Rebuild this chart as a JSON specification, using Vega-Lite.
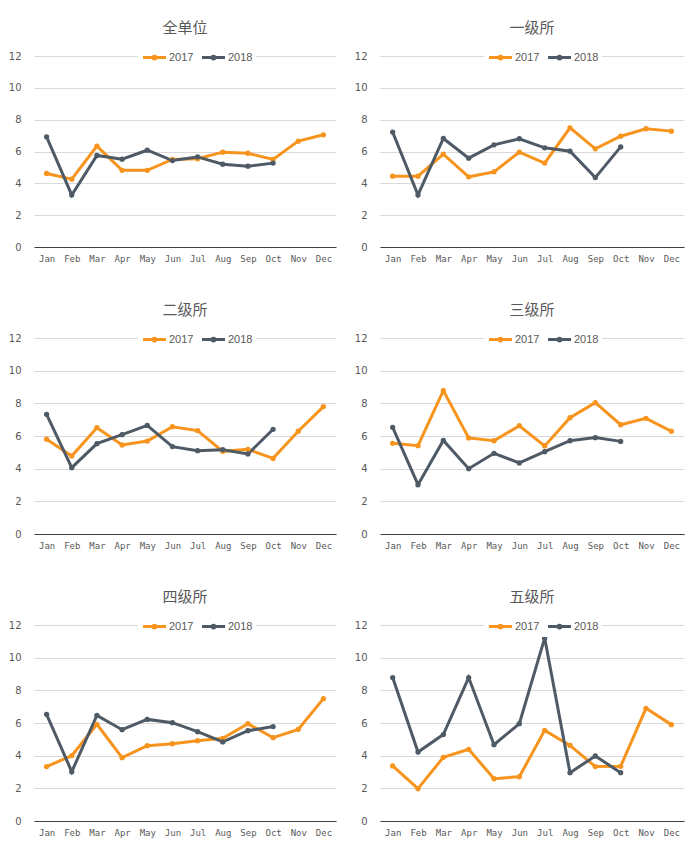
{
  "$schema": "https://vega.github.io/schema/vega-lite/v6.json",
  "background": "white",
  "padding": {"left": 8, "top": 21, "right": 5, "bottom": 5},
  "datasets": {
    "rates": [
      {"unit": "全单位", "month": "Jan", "year": "2017", "value": 4.62},
      {"unit": "全单位", "month": "Feb", "year": "2017", "value": 4.26},
      {"unit": "全单位", "month": "Mar", "year": "2017", "value": 6.34},
      {"unit": "全单位", "month": "Apr", "year": "2017", "value": 4.82},
      {"unit": "全单位", "month": "May", "year": "2017", "value": 4.82},
      {"unit": "全单位", "month": "Jun", "year": "2017", "value": 5.5},
      {"unit": "全单位", "month": "Jul", "year": "2017", "value": 5.54},
      {"unit": "全单位", "month": "Aug", "year": "2017", "value": 5.96},
      {"unit": "全单位", "month": "Sep", "year": "2017", "value": 5.89},
      {"unit": "全单位", "month": "Oct", "year": "2017", "value": 5.5},
      {"unit": "全单位", "month": "Nov", "year": "2017", "value": 6.65},
      {"unit": "全单位", "month": "Dec", "year": "2017", "value": 7.05},
      {"unit": "全单位", "month": "Jan", "year": "2018", "value": 6.92},
      {"unit": "全单位", "month": "Feb", "year": "2018", "value": 3.27},
      {"unit": "全单位", "month": "Mar", "year": "2018", "value": 5.75},
      {"unit": "全单位", "month": "Apr", "year": "2018", "value": 5.52},
      {"unit": "全单位", "month": "May", "year": "2018", "value": 6.08},
      {"unit": "全单位", "month": "Jun", "year": "2018", "value": 5.43},
      {"unit": "全单位", "month": "Jul", "year": "2018", "value": 5.66},
      {"unit": "全单位", "month": "Aug", "year": "2018", "value": 5.2},
      {"unit": "全单位", "month": "Sep", "year": "2018", "value": 5.08},
      {"unit": "全单位", "month": "Oct", "year": "2018", "value": 5.27},

      {"unit": "一级所", "month": "Jan", "year": "2017", "value": 4.45},
      {"unit": "一级所", "month": "Feb", "year": "2017", "value": 4.45},
      {"unit": "一级所", "month": "Mar", "year": "2017", "value": 5.83},
      {"unit": "一级所", "month": "Apr", "year": "2017", "value": 4.41},
      {"unit": "一级所", "month": "May", "year": "2017", "value": 4.72},
      {"unit": "一级所", "month": "Jun", "year": "2017", "value": 5.96},
      {"unit": "一级所", "month": "Jul", "year": "2017", "value": 5.27},
      {"unit": "一级所", "month": "Aug", "year": "2017", "value": 7.49},
      {"unit": "一级所", "month": "Sep", "year": "2017", "value": 6.17},
      {"unit": "一级所", "month": "Oct", "year": "2017", "value": 6.96},
      {"unit": "一级所", "month": "Nov", "year": "2017", "value": 7.43},
      {"unit": "一级所", "month": "Dec", "year": "2017", "value": 7.28},
      {"unit": "一级所", "month": "Jan", "year": "2018", "value": 7.22},
      {"unit": "一级所", "month": "Feb", "year": "2018", "value": 3.27},
      {"unit": "一级所", "month": "Mar", "year": "2018", "value": 6.82},
      {"unit": "一级所", "month": "Apr", "year": "2018", "value": 5.58},
      {"unit": "一级所", "month": "May", "year": "2018", "value": 6.42},
      {"unit": "一级所", "month": "Jun", "year": "2018", "value": 6.8},
      {"unit": "一级所", "month": "Jul", "year": "2018", "value": 6.23},
      {"unit": "一级所", "month": "Aug", "year": "2018", "value": 6.02},
      {"unit": "一级所", "month": "Sep", "year": "2018", "value": 4.36},
      {"unit": "一级所", "month": "Oct", "year": "2018", "value": 6.29},

      {"unit": "二级所", "month": "Jan", "year": "2017", "value": 5.8},
      {"unit": "二级所", "month": "Feb", "year": "2017", "value": 4.78},
      {"unit": "二级所", "month": "Mar", "year": "2017", "value": 6.51},
      {"unit": "二级所", "month": "Apr", "year": "2017", "value": 5.45},
      {"unit": "二级所", "month": "May", "year": "2017", "value": 5.69},
      {"unit": "二级所", "month": "Jun", "year": "2017", "value": 6.57},
      {"unit": "二级所", "month": "Jul", "year": "2017", "value": 6.33},
      {"unit": "二级所", "month": "Aug", "year": "2017", "value": 5.06},
      {"unit": "二级所", "month": "Sep", "year": "2017", "value": 5.18},
      {"unit": "二级所", "month": "Oct", "year": "2017", "value": 4.63},
      {"unit": "二级所", "month": "Nov", "year": "2017", "value": 6.29},
      {"unit": "二级所", "month": "Dec", "year": "2017", "value": 7.8},
      {"unit": "二级所", "month": "Jan", "year": "2018", "value": 7.33},
      {"unit": "二级所", "month": "Feb", "year": "2018", "value": 4.06},
      {"unit": "二级所", "month": "Mar", "year": "2018", "value": 5.53},
      {"unit": "二级所", "month": "Apr", "year": "2018", "value": 6.08},
      {"unit": "二级所", "month": "May", "year": "2018", "value": 6.65},
      {"unit": "二级所", "month": "Jun", "year": "2018", "value": 5.35},
      {"unit": "二级所", "month": "Jul", "year": "2018", "value": 5.1},
      {"unit": "二级所", "month": "Aug", "year": "2018", "value": 5.16},
      {"unit": "二级所", "month": "Sep", "year": "2018", "value": 4.9},
      {"unit": "二级所", "month": "Oct", "year": "2018", "value": 6.41},

      {"unit": "三级所", "month": "Jan", "year": "2017", "value": 5.55},
      {"unit": "三级所", "month": "Feb", "year": "2017", "value": 5.41},
      {"unit": "三级所", "month": "Mar", "year": "2017", "value": 8.78},
      {"unit": "三级所", "month": "Apr", "year": "2017", "value": 5.88},
      {"unit": "三级所", "month": "May", "year": "2017", "value": 5.71},
      {"unit": "三级所", "month": "Jun", "year": "2017", "value": 6.63},
      {"unit": "三级所", "month": "Jul", "year": "2017", "value": 5.39},
      {"unit": "三级所", "month": "Aug", "year": "2017", "value": 7.12},
      {"unit": "三级所", "month": "Sep", "year": "2017", "value": 8.04},
      {"unit": "三级所", "month": "Oct", "year": "2017", "value": 6.69},
      {"unit": "三级所", "month": "Nov", "year": "2017", "value": 7.08},
      {"unit": "三级所", "month": "Dec", "year": "2017", "value": 6.29},
      {"unit": "三级所", "month": "Jan", "year": "2018", "value": 6.53},
      {"unit": "三级所", "month": "Feb", "year": "2018", "value": 3.02},
      {"unit": "三级所", "month": "Mar", "year": "2018", "value": 5.73},
      {"unit": "三级所", "month": "Apr", "year": "2018", "value": 4.0},
      {"unit": "三级所", "month": "May", "year": "2018", "value": 4.94},
      {"unit": "三级所", "month": "Jun", "year": "2018", "value": 4.35},
      {"unit": "三级所", "month": "Jul", "year": "2018", "value": 5.04},
      {"unit": "三级所", "month": "Aug", "year": "2018", "value": 5.71},
      {"unit": "三级所", "month": "Sep", "year": "2018", "value": 5.9},
      {"unit": "三级所", "month": "Oct", "year": "2018", "value": 5.67},

      {"unit": "四级所", "month": "Jan", "year": "2017", "value": 3.33},
      {"unit": "四级所", "month": "Feb", "year": "2017", "value": 4.0},
      {"unit": "四级所", "month": "Mar", "year": "2017", "value": 5.92},
      {"unit": "四级所", "month": "Apr", "year": "2017", "value": 3.88},
      {"unit": "四级所", "month": "May", "year": "2017", "value": 4.61},
      {"unit": "四级所", "month": "Jun", "year": "2017", "value": 4.73},
      {"unit": "四级所", "month": "Jul", "year": "2017", "value": 4.92},
      {"unit": "四级所", "month": "Aug", "year": "2017", "value": 5.06},
      {"unit": "四级所", "month": "Sep", "year": "2017", "value": 5.96},
      {"unit": "四级所", "month": "Oct", "year": "2017", "value": 5.1},
      {"unit": "四级所", "month": "Nov", "year": "2017", "value": 5.61},
      {"unit": "四级所", "month": "Dec", "year": "2017", "value": 7.49},
      {"unit": "四级所", "month": "Jan", "year": "2018", "value": 6.53},
      {"unit": "四级所", "month": "Feb", "year": "2018", "value": 3.02},
      {"unit": "四级所", "month": "Mar", "year": "2018", "value": 6.47},
      {"unit": "四级所", "month": "Apr", "year": "2018", "value": 5.59},
      {"unit": "四级所", "month": "May", "year": "2018", "value": 6.22},
      {"unit": "四级所", "month": "Jun", "year": "2018", "value": 6.02},
      {"unit": "四级所", "month": "Jul", "year": "2018", "value": 5.47},
      {"unit": "四级所", "month": "Aug", "year": "2018", "value": 4.84},
      {"unit": "四级所", "month": "Sep", "year": "2018", "value": 5.53},
      {"unit": "四级所", "month": "Oct", "year": "2018", "value": 5.78},

      {"unit": "五级所", "month": "Jan", "year": "2017", "value": 3.37},
      {"unit": "五级所", "month": "Feb", "year": "2017", "value": 1.98},
      {"unit": "五级所", "month": "Mar", "year": "2017", "value": 3.9},
      {"unit": "五级所", "month": "Apr", "year": "2017", "value": 4.39},
      {"unit": "五级所", "month": "May", "year": "2017", "value": 2.59},
      {"unit": "五级所", "month": "Jun", "year": "2017", "value": 2.71},
      {"unit": "五级所", "month": "Jul", "year": "2017", "value": 5.55},
      {"unit": "五级所", "month": "Aug", "year": "2017", "value": 4.63},
      {"unit": "五级所", "month": "Sep", "year": "2017", "value": 3.33},
      {"unit": "五级所", "month": "Oct", "year": "2017", "value": 3.35},
      {"unit": "五级所", "month": "Nov", "year": "2017", "value": 6.9},
      {"unit": "五级所", "month": "Dec", "year": "2017", "value": 5.9},
      {"unit": "五级所", "month": "Jan", "year": "2018", "value": 8.78},
      {"unit": "五级所", "month": "Feb", "year": "2018", "value": 4.22},
      {"unit": "五级所", "month": "Mar", "year": "2018", "value": 5.29},
      {"unit": "五级所", "month": "Apr", "year": "2018", "value": 8.78},
      {"unit": "五级所", "month": "May", "year": "2018", "value": 4.67},
      {"unit": "五级所", "month": "Jun", "year": "2018", "value": 5.96},
      {"unit": "五级所", "month": "Jul", "year": "2018", "value": 11.2},
      {"unit": "五级所", "month": "Aug", "year": "2018", "value": 2.96},
      {"unit": "五级所", "month": "Sep", "year": "2018", "value": 3.98},
      {"unit": "五级所", "month": "Oct", "year": "2018", "value": 2.96}
    ]
  },
  "data": {"name": "rates"},
  "columns": 2,
  "spacing": {"column": 18, "row": 40},
  "resolve": {"scale": {"color": "independent"}, "legend": {"color": "independent"}},
  "concat": [
    {
      "title": "全单位",
      "width": 302, "height": 191,
      "transform": [{"filter": "datum.unit === '全单位'"}],
      "mark": {"type": "line", "strokeWidth": 3, "point": {"size": 28, "filled": true}},
      "encoding": {
        "x": {"field": "month", "type": "ordinal", "sort": null, "title": null,
              "scale": {"type": "point", "padding": 0.5, "domain": ["Jan","Feb","Mar","Apr","May","Jun","Jul","Aug","Sep","Oct","Nov","Dec"]}},
        "y": {"field": "value", "type": "quantitative", "title": null, "scale": {"domain": [0, 12]}},
        "color": {"field": "year", "type": "nominal", "title": null,
                  "scale": {"domain": ["2017", "2018"], "range": ["#F7941E", "#4E5A65"]}}
      }
    },
    {
      "title": "一级所",
      "width": 304, "height": 191,
      "transform": [{"filter": "datum.unit === '一级所'"}],
      "mark": {"type": "line", "strokeWidth": 3, "point": {"size": 28, "filled": true}},
      "encoding": {
        "x": {"field": "month", "type": "ordinal", "sort": null, "title": null,
              "scale": {"type": "point", "padding": 0.5, "domain": ["Jan","Feb","Mar","Apr","May","Jun","Jul","Aug","Sep","Oct","Nov","Dec"]}},
        "y": {"field": "value", "type": "quantitative", "title": null, "scale": {"domain": [0, 12]}},
        "color": {"field": "year", "type": "nominal", "title": null,
                  "scale": {"domain": ["2017", "2018"], "range": ["#F7941E", "#4E5A65"]}}
      }
    },
    {
      "title": "二级所",
      "width": 302, "height": 196,
      "transform": [{"filter": "datum.unit === '二级所'"}],
      "mark": {"type": "line", "strokeWidth": 3, "point": {"size": 28, "filled": true}},
      "encoding": {
        "x": {"field": "month", "type": "ordinal", "sort": null, "title": null,
              "scale": {"type": "point", "padding": 0.5, "domain": ["Jan","Feb","Mar","Apr","May","Jun","Jul","Aug","Sep","Oct","Nov","Dec"]}},
        "y": {"field": "value", "type": "quantitative", "title": null, "scale": {"domain": [0, 12]}},
        "color": {"field": "year", "type": "nominal", "title": null,
                  "scale": {"domain": ["2017", "2018"], "range": ["#F7941E", "#4E5A65"]}}
      }
    },
    {
      "title": "三级所",
      "width": 304, "height": 196,
      "transform": [{"filter": "datum.unit === '三级所'"}],
      "mark": {"type": "line", "strokeWidth": 3, "point": {"size": 28, "filled": true}},
      "encoding": {
        "x": {"field": "month", "type": "ordinal", "sort": null, "title": null,
              "scale": {"type": "point", "padding": 0.5, "domain": ["Jan","Feb","Mar","Apr","May","Jun","Jul","Aug","Sep","Oct","Nov","Dec"]}},
        "y": {"field": "value", "type": "quantitative", "title": null, "scale": {"domain": [0, 12]}},
        "color": {"field": "year", "type": "nominal", "title": null,
                  "scale": {"domain": ["2017", "2018"], "range": ["#F7941E", "#4E5A65"]}}
      }
    },
    {
      "title": "四级所",
      "width": 302, "height": 196,
      "transform": [{"filter": "datum.unit === '四级所'"}],
      "mark": {"type": "line", "strokeWidth": 3, "point": {"size": 28, "filled": true}},
      "encoding": {
        "x": {"field": "month", "type": "ordinal", "sort": null, "title": null,
              "scale": {"type": "point", "padding": 0.5, "domain": ["Jan","Feb","Mar","Apr","May","Jun","Jul","Aug","Sep","Oct","Nov","Dec"]}},
        "y": {"field": "value", "type": "quantitative", "title": null, "scale": {"domain": [0, 12]}},
        "color": {"field": "year", "type": "nominal", "title": null,
                  "scale": {"domain": ["2017", "2018"], "range": ["#F7941E", "#4E5A65"]}}
      }
    },
    {
      "title": "五级所",
      "width": 304, "height": 196,
      "transform": [{"filter": "datum.unit === '五级所'"}],
      "mark": {"type": "line", "strokeWidth": 3, "point": {"size": 28, "filled": true}},
      "encoding": {
        "x": {"field": "month", "type": "ordinal", "sort": null, "title": null,
              "scale": {"type": "point", "padding": 0.5, "domain": ["Jan","Feb","Mar","Apr","May","Jun","Jul","Aug","Sep","Oct","Nov","Dec"]}},
        "y": {"field": "value", "type": "quantitative", "title": null, "scale": {"domain": [0, 12]}},
        "color": {"field": "year", "type": "nominal", "title": null,
                  "scale": {"domain": ["2017", "2018"], "range": ["#F7941E", "#4E5A65"]}}
      }
    }
  ],
  "config": {
    "view": {"stroke": null},
    "title": {"font": "Noto Sans CJK SC", "fontSize": 15, "fontWeight": "normal", "color": "#595959", "offset": 5, "anchor": "middle"},
    "axisX": {"domainColor": "#404040", "domainWidth": 1, "ticks": false, "grid": false, "labelAngle": 0,
              "labelFont": "DejaVu Sans Mono", "labelFontSize": 9, "labelColor": "#595959", "labelPadding": 7},
    "axisY": {"domain": false, "ticks": false, "gridColor": "#d9d9d9", "gridWidth": 1, "values": [0, 2, 4, 6, 8, 10, 12],
              "labelFont": "DejaVu Sans", "labelFontSize": 10, "labelColor": "#595959", "labelPadding": 13},
    "legend": {"orient": "none", "legendX": 104, "legendY": -15, "direction": "horizontal",
               "fillColor": "white", "padding": 3, "columnPadding": 1,
               "symbolType": "M-1,0H1M-0.12,0A0.12,0.12 0 1 1 0.12,0A0.12,0.12 0 1 1 -0.12,0",
               "symbolSize": 530, "symbolStrokeWidth": 3, "labelFont": "Liberation Sans", "labelFontSize": 11,
               "labelColor": "#595959", "labelOffset": 1}
  }
}
